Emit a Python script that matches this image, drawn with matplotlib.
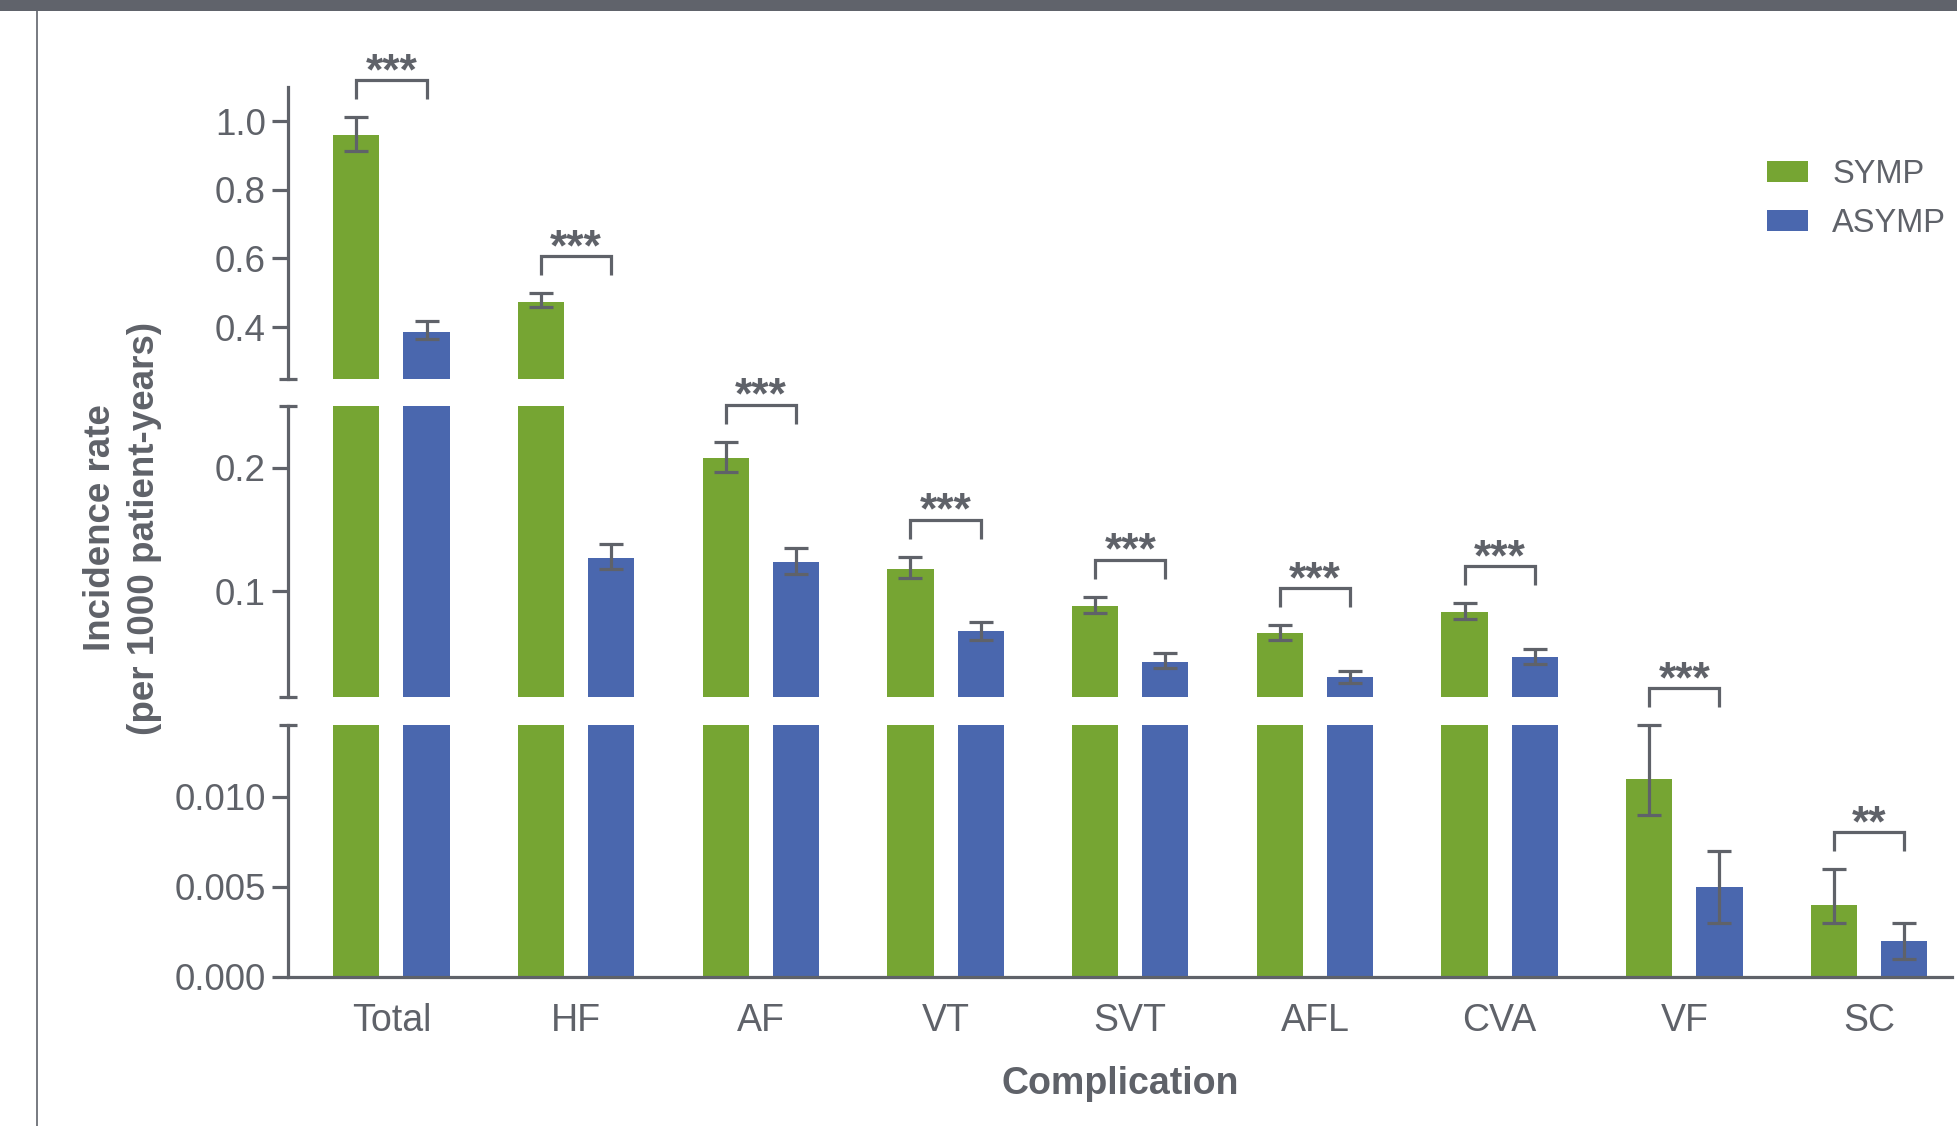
import matplotlib
matplotlib.use("Agg")
import matplotlib.pyplot as plt
from matplotlib.patches import Rectangle
from matplotlib.lines import Line2D
import numpy as np

# ---- data: incidence rate per 1000 patient-years with 95% CI ----
categories = ["Total", "HF", "AF", "VT", "SVT", "AFL", "CVA", "VF", "SC"]
series_names = ["SYMP", "ASYMP"]

symp_rate = [0.960, 0.474, 0.208, 0.118, 0.088, 0.066, 0.083, 0.011, 0.004]
symp_ci_low = [0.913, 0.457, 0.197, 0.111, 0.0826, 0.0605, 0.0773, 0.009, 0.003]
symp_ci_high = [1.011, 0.498, 0.221, 0.128, 0.0956, 0.0726, 0.0907, 0.014, 0.006]

asymp_rate = [0.386, 0.127, 0.124, 0.068, 0.043, 0.031, 0.047, 0.005, 0.002]
asymp_ci_low = [0.364, 0.118, 0.1145, 0.061, 0.038, 0.026, 0.041, 0.003, 0.001]
asymp_ci_high = [0.418, 0.138, 0.135, 0.075, 0.0505, 0.036, 0.0535, 0.007, 0.003]

significance = ["***", "***", "***", "***", "***", "***", "***", "***", "**"]

# ---- styling ----
W, H, DPI = 1957, 1126, 100
GREEN = "#76A533"
BLUE = "#4A67AE"
GRAY = "#5F6269"
FONT = "Liberation Sans"

plt.rcParams["font.family"] = [FONT, "DejaVu Sans"]
plt.rcParams["text.color"] = GRAY
plt.rcParams["axes.labelcolor"] = GRAY
plt.rcParams["xtick.color"] = GRAY
plt.rcParams["ytick.color"] = GRAY

fig = plt.figure(figsize=(W / DPI, H / DPI), dpi=DPI)
fig.patch.set_facecolor("white")

# frame decorations: dark band at top and a thin rule at the left
fig.patches.append(Rectangle((0, 1 - 11 / H), 1, 11 / H, transform=fig.transFigure,
                             facecolor="#60636B", edgecolor="none", zorder=0))
fig.lines.append(Line2D([37 / W, 37 / W], [0, 1 - 11 / H], transform=fig.transFigure,
                        color="#60636B", lw=1.2))

left_px, right_px = 288, 1952


def axes_rect(top_px, bottom_px):
    return [left_px / W, 1 - bottom_px / H, (right_px - left_px) / W, (bottom_px - top_px) / H]


# three vertical segments of the broken y-axis (bottom -> top)
segments = [
    dict(rect=axes_rect(725, 977), ylim=(0.0, 0.014), ticks=[0.0, 0.005, 0.010],
         fmt="{:.3f}", caps=("top",)),
    dict(rect=axes_rect(406, 696.5), ylim=(0.015, 0.25), ticks=[0.1, 0.2],
         fmt="{:.1f}", caps=("top", "bottom")),
    dict(rect=axes_rect(86.7, 378.5), ylim=(0.25, 1.1), ticks=[0.4, 0.6, 0.8, 1.0],
         fmt="{:.1f}", caps=("bottom",)),
]

x = np.arange(len(categories))
bar_w = 0.25
offset = 0.19
xlim = (-0.56, 8.449)

series = [
    (symp_rate, symp_ci_low, symp_ci_high, GREEN, -offset),
    (asymp_rate, asymp_ci_low, asymp_ci_high, BLUE, offset),
]


def seg_index(v):
    for i, s in enumerate(segments):
        lo, hi = s["ylim"]
        if lo <= v <= hi + 1e-12:
            return i
    return len(segments) - 1


axes = []
legend_handles = []
for si, seg in enumerate(segments):
    ax = fig.add_axes(seg["rect"])
    axes.append(ax)
    ax.set_xlim(*xlim)
    ax.set_ylim(*seg["ylim"])
    for name, (rate, lo, hi, color, dx) in zip(series_names, series):
        bars = ax.bar(x + dx, rate, width=bar_w, color=color, edgecolor="none", zorder=2, label=name)
        if si == 0:
            legend_handles.append(bars)
        # error bars only where the bar top falls in this segment
        idx = [j for j in range(len(rate)) if seg_index(rate[j]) == si]
        if idx:
            r = np.array(rate)[idx]
            yerr = np.vstack([r - np.array(lo)[idx], np.array(hi)[idx] - r])
            eb = ax.errorbar(x[idx] + dx, r, yerr=yerr, fmt="none", ecolor=GRAY,
                             elinewidth=2.3, capsize=8.5, capthick=2.3, zorder=3)
            for art in list(eb.lines[1]) + list(eb.lines[2]):
                art.set_clip_on(False)

    for side in ["top", "right"]:
        ax.spines[side].set_visible(False)
    ax.spines["left"].set_color(GRAY)
    ax.spines["left"].set_linewidth(2.3)
    if si == 0:
        ax.spines["bottom"].set_color(GRAY)
        ax.spines["bottom"].set_linewidth(2.3)
        ax.set_xticks(x)
        ax.set_xticklabels(categories, fontsize=27)
        ax.tick_params(axis="x", length=0, pad=19)
        ax.set_xlabel("Complication", fontsize=27, fontweight="bold", labelpad=19)
    else:
        ax.spines["bottom"].set_visible(False)
        ax.set_xticks([])
    ax.set_yticks(seg["ticks"])
    ax.set_yticklabels([seg["fmt"].format(t) for t in seg["ticks"]], fontsize=26.5)
    ax.tick_params(axis="y", length=11.5, width=2.3, pad=4.5, colors=GRAY)
    ax.patch.set_alpha(0)

    # short horizontal caps marking the axis breaks
    for c in seg["caps"]:
        yc = 1.0 if c == "top" else 0.0
        ax.plot([0], [yc], marker="_", markersize=13, mew=2.3, color=GRAY,
                transform=ax.transAxes, clip_on=False, zorder=5)


def px_to_data(ax, px):
    y0, y1 = ax.get_ylim()
    h_px = ax.get_position().height * H
    return px * (y1 - y0) / h_px


# significance brackets above each pair
for j, label in enumerate(significance):
    top = max(symp_ci_high[j], asymp_ci_high[j])
    ax = axes[seg_index(top)]
    y_leg = top + px_to_data(ax, 18)
    y_line = top + px_to_data(ax, 37)
    xs = [x[j] - offset, x[j] - offset, x[j] + offset, x[j] + offset]
    ys = [y_leg, y_line, y_line, y_leg]
    ax.plot(xs, ys, color=GRAY, lw=2.3, clip_on=False, zorder=4,
            solid_joinstyle="miter", solid_capstyle="butt")
    ax.text(x[j], y_line - px_to_data(ax, 4), label, ha="center", va="baseline",
            fontsize=32, fontweight="bold", color=GRAY, clip_on=False)

# y-axis title
fig.text(122.5 / W, 1 - 528 / H, "Incidence rate\n(per 1000 patient-years)",
         rotation=90, ha="center", va="center", multialignment="center",
         fontsize=26.5, fontweight="bold", color=GRAY, linespacing=1.37)

# legend
fig.legend(legend_handles, series_names, loc="upper left",
           bbox_to_anchor=(1767 / W, 1 - 159 / H), frameon=False, fontsize=23.5,
           handlelength=1.26, handleheight=0.61, handletextpad=0.74,
           labelspacing=0.55, borderpad=0, borderaxespad=0, labelcolor=GRAY)

fig.savefig("out.png", dpi=DPI, facecolor="white")
